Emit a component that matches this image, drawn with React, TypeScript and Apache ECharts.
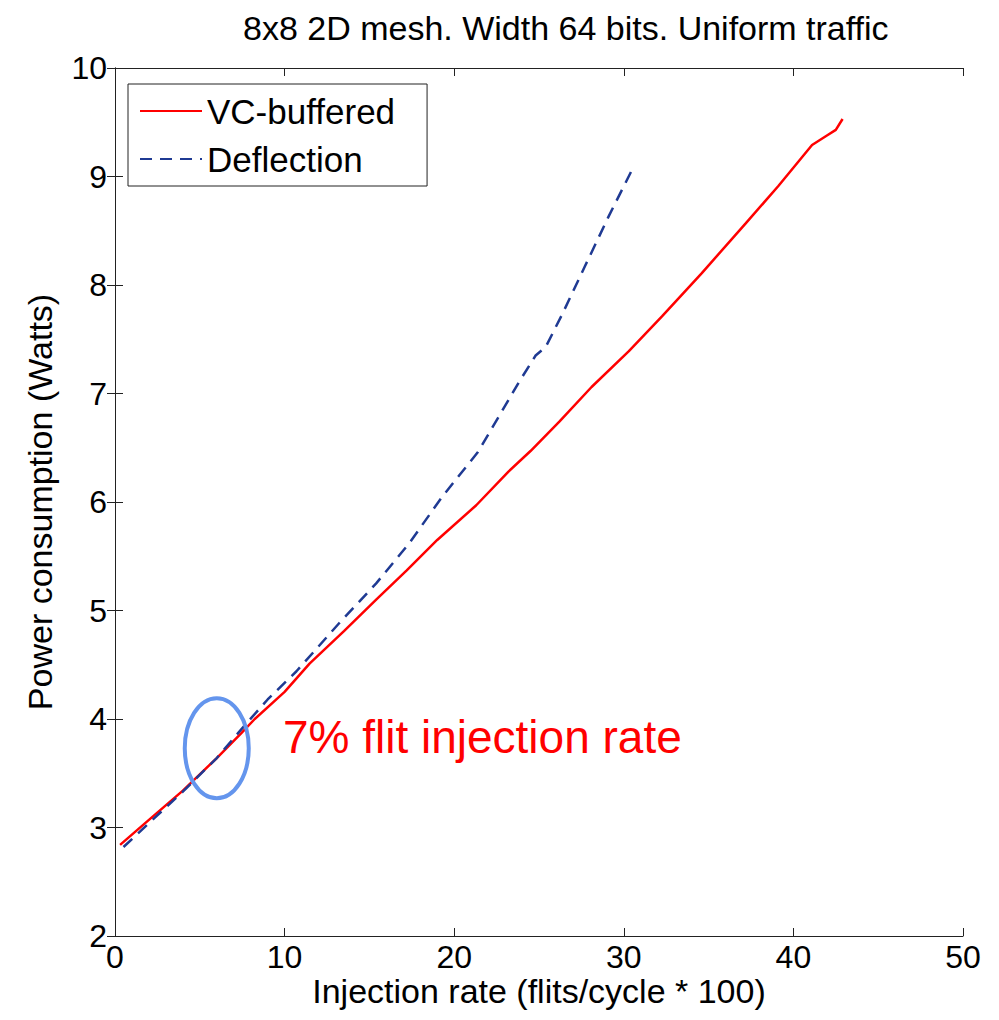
import React, { useEffect, useRef } from "react";
import * as echarts from "echarts";

const titleText = "8x8 2D mesh. Width 64 bits. Uniform traffic";
const xName = "Injection rate (flits/cycle * 100)";
const yName = "Power consumption (Watts)";
const seriesNames = ["VC-buffered", "Deflection"];

const vcRate = [0.3, 2, 4, 6, 7.45, 8.24, 10, 11.47, 13.5, 15.4, 17.2, 19.0, 21.3, 23.2, 24.5, 26.2, 28.1, 30.3, 32.25, 34.6, 37.2, 39.1, 41.1, 42.0, 42.5, 42.9];
const vcPower = [2.84, 3.07, 3.34, 3.64, 3.87, 4.0, 4.25, 4.51, 4.81, 5.10, 5.37, 5.65, 5.97, 6.28, 6.47, 6.74, 7.06, 7.39, 7.71, 8.11, 8.57, 8.91, 9.29, 9.38, 9.43, 9.53];

const deflRate = [0.5, 2, 4, 6, 7.75, 9, 10.7, 13.2, 15.4, 17.35, 19.3, 21.4, 23.8, 24.8, 25.4, 26.4, 27.7, 29.1, 30.45];
const deflPower = [2.82, 3.04, 3.33, 3.64, 3.96, 4.18, 4.44, 4.88, 5.25, 5.62, 6.05, 6.46, 7.10, 7.35, 7.43, 7.74, 8.17, 8.63, 9.05];

const xTicks = { min: 0, max: 50, interval: 10 };
const yTicks = { min: 2, max: 10, interval: 1 };

const circleCenter = [6, 3.73];
const noteText = "7% flit injection rate";
const notePos = [9.9, 3.83];

const FONT = "'Liberation Sans', Arial, sans-serif";

export default function App() {
  const ref = useRef<HTMLDivElement>(null);
  useEffect(() => {
    if (!ref.current) return;
    const chart = echarts.init(ref.current, null, { renderer: "svg" });
    const vcData = vcRate.map((x, i) => [x, vcPower[i]]);
    const deflData = deflRate.map((x, i) => [x, deflPower[i]]);
    const axisLine = { show: true, lineStyle: { color: "#222", width: 1 } };
    const tick = { show: true, inside: true, length: 8, lineStyle: { color: "#222", width: 1 } };
    chart.setOption({
      animation: false,
      backgroundColor: "#fff",
      title: {
        text: titleText,
        left: 238,
        top: 6,
        textStyle: { fontFamily: FONT, fontSize: 34, fontWeight: "normal", color: "#000" },
      },
      grid: { left: 115, right: 36, top: 68, bottom: 84, show: false },
      legend: {
        orient: "vertical",
        left: 128,
        top: 84,
        data: seriesNames,
        backgroundColor: "#fff",
        borderColor: "#222",
        borderWidth: 1,
        borderRadius: 0,
        padding: [8, 32, 8, 11],
        itemWidth: 62,
        itemHeight: 14,
        itemGap: 10,
        itemStyle: { opacity: 0 },
        textStyle: { fontFamily: FONT, fontSize: 35, color: "#000", lineHeight: 38 },
      },
      xAxis: [
        {
          type: "value",
          min: xTicks.min,
          max: xTicks.max,
          interval: xTicks.interval,
          name: xName,
          nameLocation: "middle",
          nameGap: 38,
          nameMoveOverlap: false,
          nameTextStyle: { fontFamily: FONT, fontSize: 34, color: "#000" },
          axisLine,
          axisTick: tick,
          splitLine: { show: false },
          axisLabel: { fontFamily: FONT, fontSize: 32, color: "#000", margin: 5 },
        },
        {
          type: "value",
          position: "top",
          min: xTicks.min,
          max: xTicks.max,
          interval: xTicks.interval,
          axisLine,
          axisTick: tick,
          splitLine: { show: false },
          axisLabel: { show: false },
        },
      ],
      yAxis: [
        {
          type: "value",
          min: yTicks.min,
          max: yTicks.max,
          interval: yTicks.interval,
          name: yName,
          nameLocation: "middle",
          nameGap: 58,
          nameMoveOverlap: false,
          nameTextStyle: { fontFamily: FONT, fontSize: 34, color: "#000" },
          axisLine,
          axisTick: tick,
          splitLine: { show: false },
          axisLabel: { fontFamily: FONT, fontSize: 32, color: "#000", margin: 8 },
        },
        {
          type: "value",
          position: "right",
          min: yTicks.min,
          max: yTicks.max,
          interval: yTicks.interval,
          axisLine,
          axisTick: tick,
          splitLine: { show: false },
          axisLabel: { show: false },
        },
      ],
      series: [
        {
          name: seriesNames[0],
          type: "line",
          data: vcData,
          showSymbol: false,
          symbol: "none",
          lineStyle: { color: "#ff0000", width: 2.5 },
          itemStyle: { color: "#ff0000" },
          z: 3,
        },
        {
          name: seriesNames[1],
          type: "line",
          data: deflData,
          showSymbol: false,
          symbol: "none",
          lineStyle: { color: "#1f3a93", width: 2.5, type: [12, 8] },
          itemStyle: { color: "#1f3a93" },
          z: 4,
        },
      ],
    });
    const c = chart.convertToPixel({ gridIndex: 0 }, circleCenter) as number[];
    const t = chart.convertToPixel({ gridIndex: 0 }, notePos) as number[];
    chart.setOption({
      graphic: [
        {
          type: "ellipse",
          shape: { cx: c[0], cy: c[1], rx: 32, ry: 50 },
          style: { fill: "none", stroke: "#6495ed", lineWidth: 4 },
          z: 10,
        },
        {
          type: "text",
          x: t[0],
          y: t[1],
          style: {
            text: noteText,
            fontFamily: FONT,
            fontSize: 46,
            fill: "#ff0000",
            verticalAlign: "middle",
          },
          z: 10,
        },
      ],
    });
    return () => chart.dispose();
  }, []);
  return <div ref={ref} style={{ width: 999, height: 1020, margin: -8 }} />;
}
